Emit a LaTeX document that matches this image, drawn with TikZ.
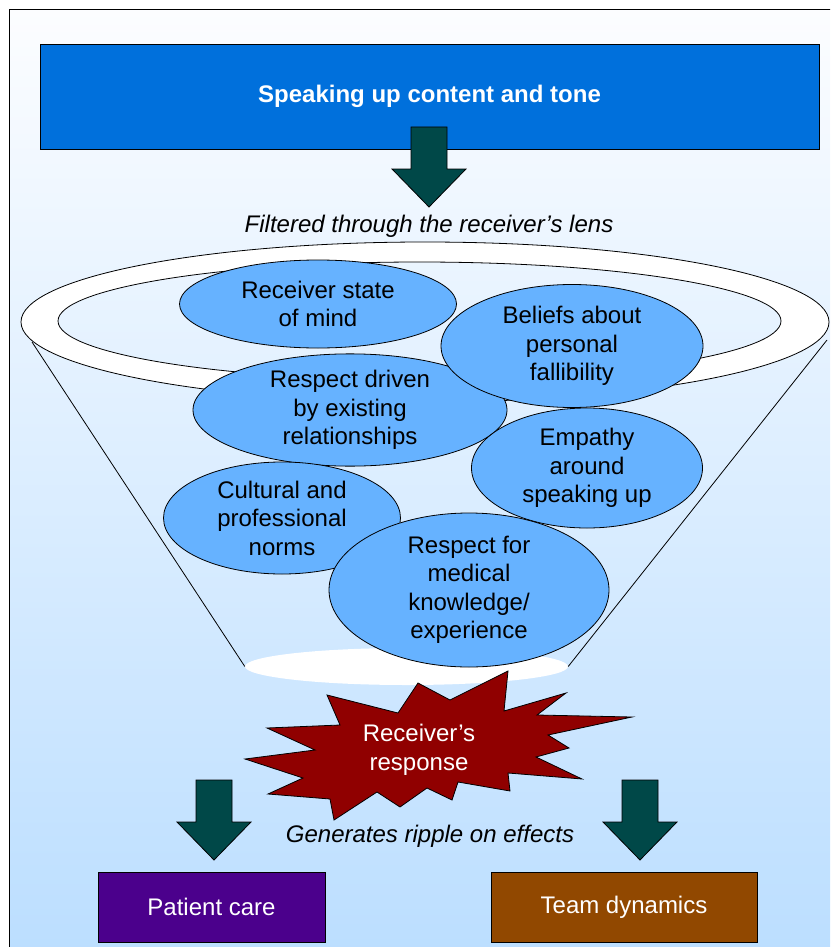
\documentclass[tikz,border=0pt]{standalone}
\usepackage{fontspec}
\setmainfont{Liberation Sans}
\usetikzlibrary{shapes.geometric}

\definecolor{topblue}{RGB}{0,112,220}
\definecolor{arrowteal}{RGB}{0,72,72}
\definecolor{bubbleblue}{RGB}{102,178,255}
\definecolor{burstred}{RGB}{144,0,0}
\definecolor{carepurple}{RGB}{75,0,140}
\definecolor{teambrown}{RGB}{145,72,0}
\definecolor{bgtop}{RGB}{252,253,255}
\definecolor{bgbottom}{RGB}{187,222,255}

\begin{document}
\begin{tikzpicture}[x=1pt,y=-1pt,
    every node/.style={font=\fontsize{24}{28.5}\selectfont,align=center},
    bubble/.style={ellipse,draw,fill=bubbleblue,inner sep=0pt,line width=0.8pt},
    outbox/.style={rectangle,draw,line width=0.8pt,text=white,inner sep=0pt},
    blockarrow/.pic={
        \draw[fill=arrowteal,line width=0.8pt,line join=miter]
            (-18,0) -- (18,0) -- (18,42) -- (37,42) -- (0,80)
            -- (-37,42) -- (-18,42) -- cycle;
    }]
\useasboundingbox (0,0) rectangle (830,947);
\clip (0,0) rectangle (830,947);

% frame and background
\shade[top color=bgtop,bottom color=bgbottom] (9.5,9.5) rectangle (845,960);
\draw[line width=1pt] (9.5,9.5) rectangle (845,960);

% top box
\node[outbox,fill=topblue,minimum width=779pt,minimum height=105pt,
    font=\fontsize{24}{28.5}\selectfont\bfseries] (content) at (429.5,96.5)
    {Speaking up content and tone};
\pic at (429,127) {blockarrow};
\node[font=\fontsize{24}{28.5}\selectfont\itshape] (lens) at (429,226)
    {Filtered through the receiver’s lens};

% funnel
\fill[white,even odd rule] (425,322) ellipse [x radius=404,y radius=80]
    (419.5,321) ellipse [x radius=361.5,y radius=59];
\draw[line width=0.8pt] (425,322) ellipse [x radius=404,y radius=80];
\draw[line width=0.8pt] (419.5,321) ellipse [x radius=361.5,y radius=59];
\coordinate (rimL) at (32,342);
\coordinate (rimR) at (827,340);
\node[ellipse,fill=white,minimum width=323pt,minimum height=37pt,inner sep=0pt]
    (spout) at (406.5,666.5) {};
\draw[line width=0.8pt] (rimL) -- (spout.west);
\draw[line width=0.8pt] (rimR) -- (spout.east);

% filters
\node[bubble,minimum width=277pt,minimum height=88pt] (mind) at (318,304)
    {Receiver state\\of mind};
\node[bubble,minimum width=314pt,minimum height=107pt] (relation) at (350,410)
    {Respect driven\\by existing\\relationships};
\node[bubble,minimum width=262pt,minimum height=123pt] (fallible) at (572,346)
    {Beliefs about\\personal\\fallibility};
\node[bubble,minimum width=231pt,minimum height=120pt] (empathy) at (587,468)
    {Empathy\\around\\speaking up};
\node[bubble,minimum width=237pt,minimum height=112pt] (norms) at (282,518)
    {Cultural and\\professional\\norms};
\node[bubble,minimum width=280pt,minimum height=154pt] (medical) at (469,590)
    {Respect for\\medical\\knowledge/\\experience};

% response
\draw[fill=burstred,line width=0.8pt,line join=miter]
    (508,671) -- (504,711) -- (566,693) -- (537,715) -- (632,717)
    -- (548,735) -- (569,748) -- (536,757) -- (582,779) -- (508,773)
    -- (510,791) -- (458,782) -- (452,800) -- (427,788) -- (400,807)
    -- (377,792) -- (334,820) -- (330,799) -- (268,794) -- (303,778)
    -- (245,759) -- (315,750) -- (267,728) -- (340,725) -- (327,695)
    -- (398,713) -- (418,683) -- (450,700) -- cycle;
\node[text=white] (response) at (419,750) {Receiver’s\\response};

% effects
\pic at (214,780) {blockarrow};
\pic at (640,780) {blockarrow};
\node[font=\fontsize{24}{28.5}\selectfont\itshape] (ripple) at (430,836)
    {Generates ripple on effects};
\node[outbox,fill=carepurple,minimum width=227pt,minimum height=70pt]
    (care) at (211.5,907) {Patient care};
\node[outbox,fill=teambrown,minimum width=266pt,minimum height=70pt]
    (team) at (624,907) {Team dynamics};
\end{tikzpicture}
\end{document}
